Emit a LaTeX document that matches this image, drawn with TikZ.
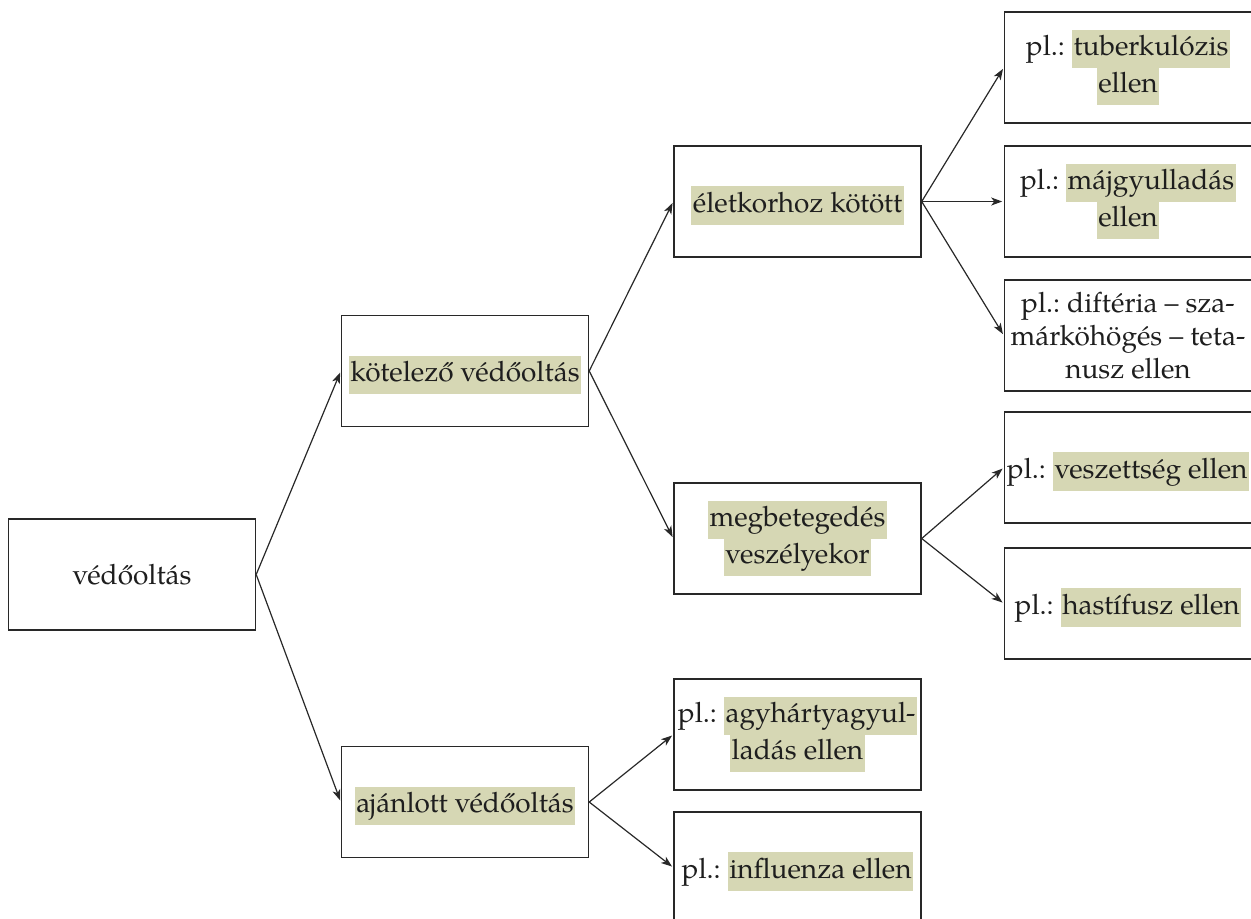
\documentclass[tikz,border=0pt]{standalone}
\usepackage{fontspec}
\setmainfont{texgyrepagella-regular.otf}
\usetikzlibrary{arrows.meta}
\definecolor{hlc}{RGB}{214,215,180}
\definecolor{ln}{RGB}{40,40,40}
\definecolor{txt}{RGB}{30,30,30}
\newcommand{\hlstrut}{\rule[-5.4pt]{0pt}{17.6pt}}
\newcommand{\hl}[1]{\hlstrut\smash{\setlength{\fboxsep}{0.8pt}\colorbox{hlc}{\hlstrut #1}}}
\frenchspacing
\tikzset{
  box/.style={draw=ln, line width=0.7pt, minimum width=123.5pt, minimum height=55.5pt,
    inner sep=1pt, align=center, text=txt, font=\fontsize{14}{16.4}\selectfont\frenchspacing},
  hbox/.style={box, execute at begin node={\rule{0pt}{16pt}}},
  conn/.style={draw=ln, line width=0.6pt, -{Stealth[length=5.5pt,width=4pt,inset=1.5pt]}, shorten >=0.8pt}
}
\begin{document}
\begin{tikzpicture}[x=0.5pt,y=-0.5pt]
\useasboundingbox (0,0) rectangle (1251,918);
\node[box] (v) at (132,574.5) {védőoltás};
\node[hbox] (k) at (465,371) {\hl{kötelező védőoltás}};
\node[hbox] (a) at (465,802) {\hl{ajánlott védőoltás}};
\node[hbox] (e) at (797.5,201.5) {\hl{életkorhoz kötött}};
\node[hbox] (m) at (797.5,538.5) {\hl{megbetegedés}\\\hl{veszélyekor}};
\node[hbox] (ag) at (797.5,734.5) {pl.: \hl{agyhártyagyul-}\\\hl{ladás ellen}};
\node[hbox] (inf) at (797.5,867.5) {pl.: \hl{influenza ellen}};
\node[hbox] (tb) at (1128,67.5) {pl.: \hl{tuberkulózis}\\\hl{ellen}};
\node[hbox] (mj) at (1128,201.5) {pl.: \hl{májgyulladás}\\\hl{ellen}};
\node[box] (df) at (1128,335.5) {pl.: diftéria – sza-\\márköhögés – teta-\\nusz ellen};
\node[hbox] (vs) at (1128,467.5) {pl.: \hl{veszettség ellen}};
\node[hbox] (hs) at (1128,603.5) {pl.: \hl{hastífusz ellen}};
\draw[conn] (v.east) -- (k.west);
\draw[conn] (v.east) -- (a.west);
\draw[conn] (k.east) -- (e.west);
\draw[conn] (k.east) -- (m.west);
\draw[conn] (a.east) -- (ag.west);
\draw[conn] (a.east) -- (inf.west);
\draw[conn] (e.east) -- (tb.west);
\draw[conn] (e.east) -- (mj.west);
\draw[conn] (e.east) -- (df.west);
\draw[conn] (m.east) -- (vs.west);
\draw[conn] (m.east) -- (hs.west);
\end{tikzpicture}
\end{document}
